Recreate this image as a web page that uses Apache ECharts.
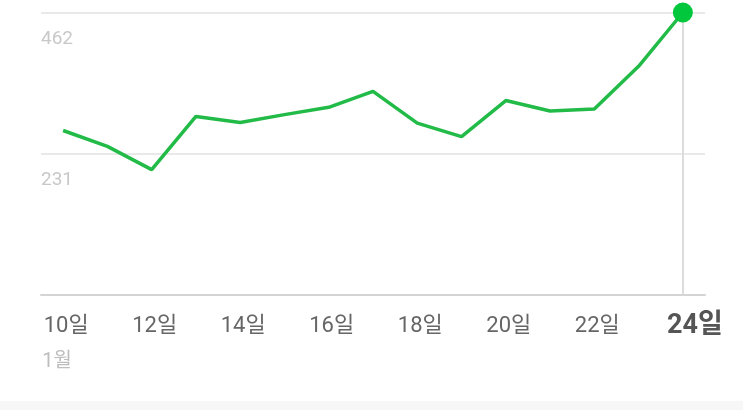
<!DOCTYPE html>
<html>
<head>
<meta charset="utf-8">
<script src="https://cdn.jsdelivr.net/npm/echarts@6/dist/echarts.min.js"></script>
<style>
html,body{margin:0;padding:0;background:#f7f7f8;}
#chart{width:743px;height:401px;background:#ffffff;}
</style>
</head>
<body>
<div id="chart"></div>
<script>
var categories = ['10일','11일','12일','13일','14일','15일','16일','17일','18일','19일','20일','21일','22일','23일','24일'];
var values = [269, 243, 205, 292, 282, 295, 307, 333, 281, 259, 318, 301, 304, 374, 462];
var yTicks = [0, 231, 462];
var monthLabel = '1월';

var FONT = 'Roboto, "Noto Sans CJK KR", sans-serif';
var chart = echarts.init(document.getElementById('chart'));
var lastIdx = categories.length - 1;
chart.setOption({
  animation: false,
  grid: {left: 41, right: 38, top: 12.5, bottom: 106},
  xAxis: {
    type: 'category',
    data: categories,
    boundaryGap: true,
    axisLine: {lineStyle: {color: '#d4d4d4', width: 2}},
    axisTick: {show: false},
    axisLabel: {
      interval: 1,
      margin: 20,
      fontFamily: FONT,
      fontSize: 22,
      lineHeight: 22,
      color: '#666666',
      formatter: function (v, i) {
        if (i === lastIdx) return '{b|' + v + '}';
        if (i === 0) return '{a|' + v + '}\n{m|' + monthLabel + '}';
        return '{n|' + v + '}';
      },
      rich: {
        n: {fontSize: 22, lineHeight: 22, color: '#666666', fontFamily: FONT, padding: [0, 0, 0, 6]},
        a: {fontSize: 22, lineHeight: 22, color: '#666666', fontFamily: FONT, padding: [0, 0, 0, 6]},
        m: {fontSize: 20, lineHeight: 50, color: '#bdbdbd', fontFamily: FONT, padding: [0, 12, 0, 0]},
        b: {fontSize: 27, lineHeight: 22, fontWeight: 'bold', color: '#555555', fontFamily: FONT, padding: [0, 0, 0, 24]}
      }
    }
  },
  yAxis: {
    type: 'value',
    min: yTicks[0],
    max: yTicks[2],
    interval: yTicks[1] - yTicks[0],
    axisLine: {show: false},
    axisTick: {show: false},
    splitLine: {lineStyle: {color: '#e9e9e9', width: 2}},
    axisLabel: {
      inside: true,
      showMinLabel: false,
      margin: 0,
      align: 'left',
      verticalAlign: 'top',
      padding: [17, 0, 0, 0],
      fontFamily: 'Roboto, sans-serif',
      fontSize: 19,
      color: '#c8c8c8'
    }
  },
  series: [{
    type: 'line',
    data: values,
    showAllSymbol: true,
    symbol: 'circle',
    symbolSize: function (v, p) { return p.dataIndex === lastIdx ? 20 : 0; },
    itemStyle: {color: '#00c73c'},
    lineStyle: {color: '#22bb48', width: 3.5},
    z: 5,
    markLine: {
      silent: true,
      symbol: 'none',
      label: {show: false},
      lineStyle: {color: '#dcdcdc', width: 2, type: 'solid'},
      data: [{xAxis: categories[lastIdx]}],
      z: 1
    }
  }]
});
</script>
</body>
</html>
